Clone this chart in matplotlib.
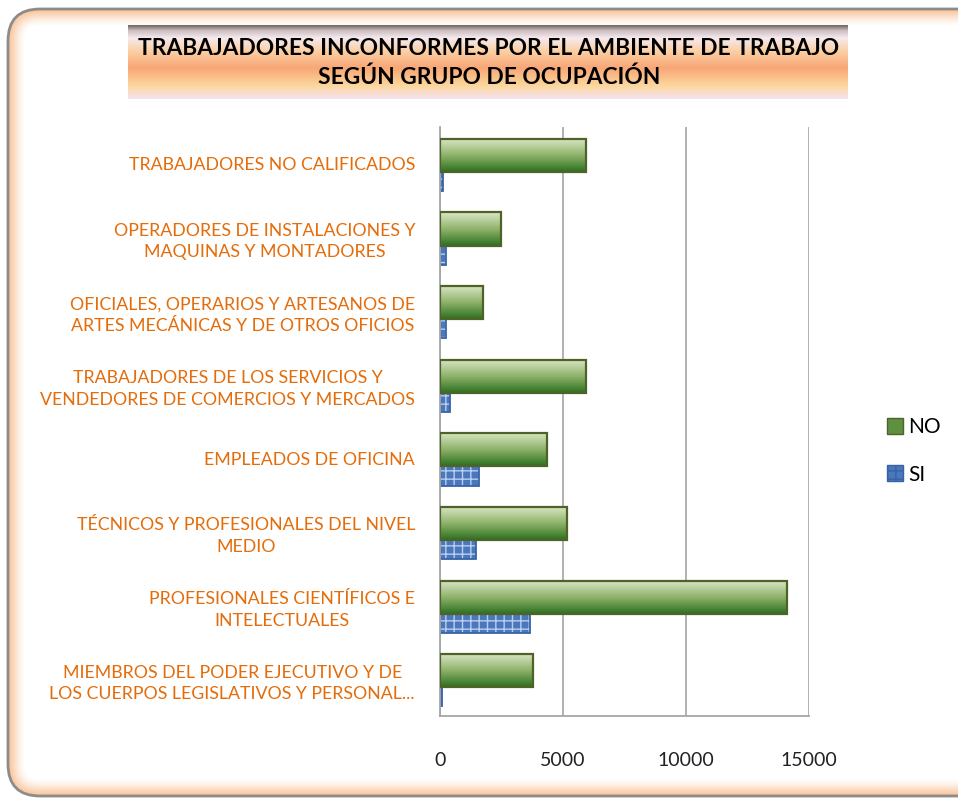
import matplotlib
matplotlib.use('Agg')
from matplotlib import pyplot as plt
from matplotlib.patches import FancyBboxPatch, Patch
from matplotlib.colors import LinearSegmentedColormap
import numpy as np

categorias = [
    'MIEMBROS DEL PODER EJECUTIVO Y DE\nLOS CUERPOS LEGISLATIVOS Y PERSONAL...',
    'PROFESIONALES CIENTÍFICOS E\nINTELECTUALES',
    'TÉCNICOS Y PROFESIONALES DEL NIVEL\nMEDIO',
    'EMPLEADOS DE OFICINA',
    'TRABAJADORES DE LOS SERVICIOS Y\nVENDEDORES DE COMERCIOS Y MERCADOS',
    'OFICIALES, OPERARIOS Y ARTESANOS DE\nARTES MECÁNICAS Y DE OTROS OFICIOS',
    'OPERADORES DE INSTALACIONES Y\nMAQUINAS Y MONTADORES',
    'TRABAJADORES NO CALIFICADOS',
]
no_vals = [3790, 14120, 5150, 4350, 5930, 1750, 2480, 5930]
si_vals = [100, 3660, 1460, 1590, 400, 250, 250, 120]
ticks = [0, 5000, 10000, 15000]

titulo = 'TRABAJADORES INCONFORMES POR EL AMBIENTE DE TRABAJO\nSEGÚN GRUPO DE OCUPACIÓN'

plt.rcParams['font.family'] = ['Lato', 'DejaVu Sans']

fig = plt.figure(figsize=(9.58, 7.99), dpi=100)
W, H = 958, 799

# marco redondeado con brillo naranja
bg = fig.add_axes([0, 0, 1, 1])
bg.set_xlim(0, W)
bg.set_ylim(H, 0)
bg.axis('off')
for i in range(16):
    a = 0.45 * (1 - i / 16) ** 1.5
    bg.add_patch(FancyBboxPatch((9 + i, 10 + i), 980 - 2 * i, 785 - 2 * i,
                                boxstyle='round,pad=0,rounding_size=%d' % max(30 - i, 5),
                                fill=False, edgecolor='#f6a05a', alpha=a, lw=1.2))
bg.add_patch(FancyBboxPatch((8, 9), 990, 787, boxstyle='round,pad=0,rounding_size=32',
                            fill=False, edgecolor='#8c8c8c', lw=2))

# caja del titulo con degradado
tcmap = LinearSegmentedColormap.from_list('t', [
    (0.0, '#6f6762'), (0.07, '#c9bdbd'), (0.17, '#f6eaf0'), (0.35, '#fbd0a4'),
    (0.58, '#f8a676'), (0.82, '#fcd79c'), (1.0, '#f6e2f2')])
grad = np.linspace(0, 1, 200).reshape(-1, 1)
bg.imshow(grad, cmap=tcmap, extent=[128, 848, 99, 25], aspect='auto', zorder=1)
bg.set_xlim(0, W)
bg.set_ylim(H, 0)
bg.text(489, 63, titulo, ha='center', va='center', fontsize=16.4, fontweight='bold',
        color='black', linespacing=1.45, zorder=2)

# grafico
ax = fig.add_axes([440 / W, 1 - 716 / H, 369 / W, 589 / H])
y = np.arange(len(categorias))
h = 0.45
barras_no = ax.barh(y + 0.115, no_vals, height=h, facecolor='none',
                    edgecolor='#4f6228', linewidth=1.6, zorder=4)
ax.barh(y - 0.145, si_vals, height=h, color='#4a78bb', edgecolor='#b9cdf0',
        hatch='++', linewidth=0, zorder=2)
ax.barh(y - 0.145, si_vals, height=h, fill=False, edgecolor='#3763a6',
        linewidth=1.3, zorder=2.5)

gcmap = LinearSegmentedColormap.from_list('g', ['#2c7020', '#8fb36a', '#dbe8c8'])
g = np.linspace(0, 1, 100).reshape(-1, 1)
for b in barras_no:
    x0, y0 = b.get_x(), b.get_y()
    im = ax.imshow(g, cmap=gcmap, extent=[x0, x0 + b.get_width(), y0, y0 + b.get_height()],
                   origin='lower', aspect='auto', zorder=3)
    im.set_clip_path(b)

ax.set_xlim(0, 15000)
ax.set_ylim(-0.5, len(categorias) - 0.5)
ax.set_xticks(ticks)
ax.set_xticklabels([str(t) for t in ticks], fontsize=14, color='#222222')
ax.set_yticks(y)
ax.set_yticklabels(categorias, fontsize=12.8, color='#e46c0a', linespacing=1.42,
                   multialignment='center')
ax.tick_params(length=0)
ax.tick_params(axis='x', pad=26)
ax.tick_params(axis='y', pad=18)
ax.grid(axis='x', color='#ababab', linewidth=1.3, zorder=0)
ax.set_axisbelow(True)
for s in ['top', 'right']:
    ax.spines[s].set_visible(False)
for s in ['left', 'bottom']:
    ax.spines[s].set_color('#a6a6a6')
    ax.spines[s].set_linewidth(1.3)
ax.patch.set_alpha(0)

handles = [Patch(facecolor='#5f9040', edgecolor='#4f6228', label='NO'),
           Patch(facecolor='#4a78bb', edgecolor='#3763a6', hatch='++', label='SI')]
fig.legend(handles=handles, loc='center left', bbox_to_anchor=(868 / W, 1 - 451 / H),
           frameon=False, fontsize=15, handlelength=0.8, handleheight=0.8,
           handletextpad=0.25, labelspacing=1.3)

plt.savefig('out.png', dpi=100)
